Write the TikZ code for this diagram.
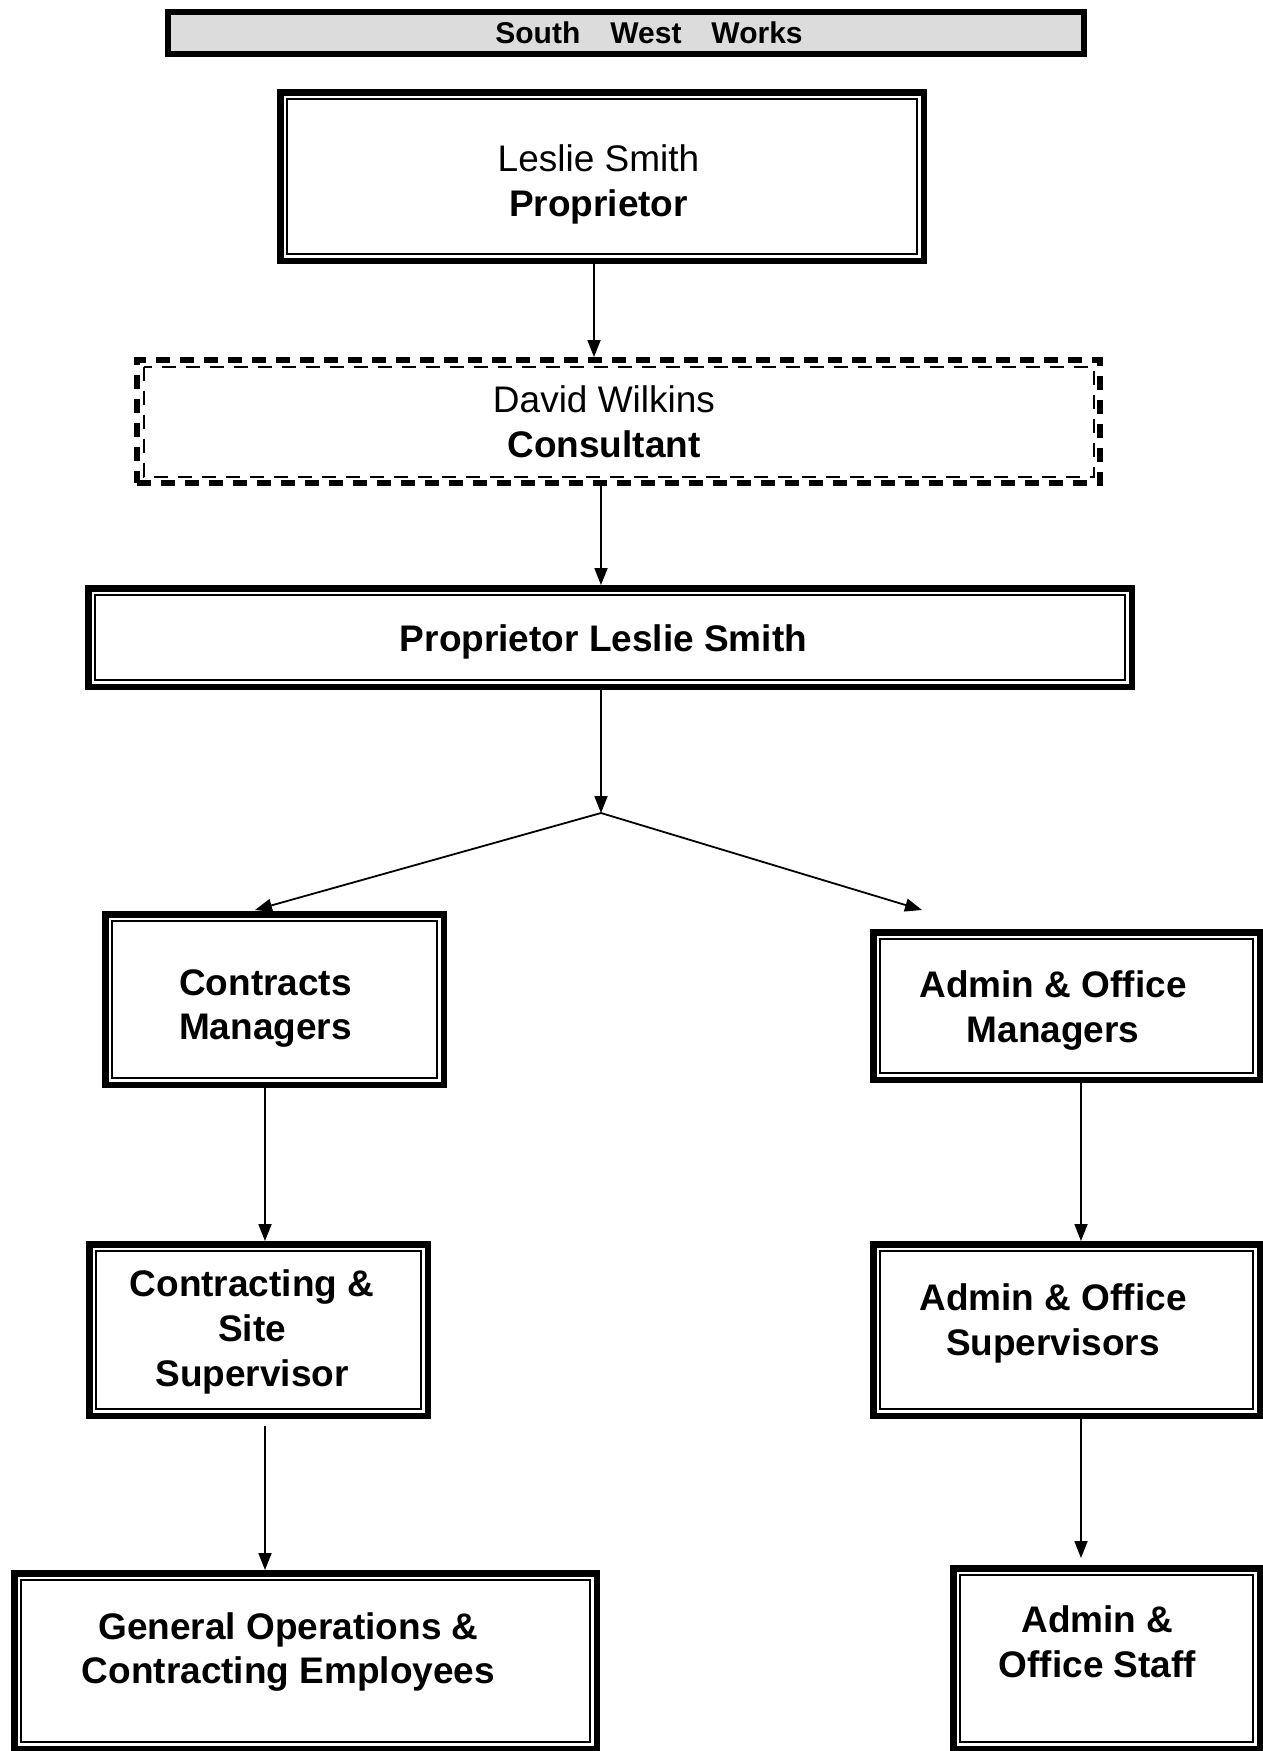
\documentclass[tikz,border=0pt]{standalone}
\usepackage{fontspec}
\setmainfont{Liberation Sans}
\usetikzlibrary{arrows.meta}
\definecolor{titlegray}{RGB}{220,220,220}

\begin{document}
\begin{tikzpicture}[x=1pt,y=-1pt,
    orgbox/.style={draw,line width=6.5pt,inner sep=0pt},
    dashbox/.style={orgbox,line width=6pt,dash pattern=on 14pt off 10pt},
    boxtext/.style={align=center,inner sep=0pt,
                    font=\fontsize{37}{44.7}\selectfont\bfseries},
    titlebox/.style={draw,fill=titlegray,line width=6pt,inner sep=0pt,
                     font=\fontsize{30}{36}\selectfont\bfseries},
    innerline/.style={line width=2pt},
    link/.style={-{Triangle[length=17pt,width=13pt]},line width=1.8pt}
  ]
  \useasboundingbox (0,0) rectangle (1262,1751);

  \node[titlebox,minimum width=916pt,minimum height=42pt,
        label={[font=\fontsize{30}{36}\selectfont\bfseries,xshift=23pt]center:South\quad West\quad Works}]
        (title) at (626,33) {};

  \node[orgbox,minimum width=643.5pt,minimum height=168.5pt,
        label={[boxtext,xshift=-3.5pt,yshift=-8pt]center:{{\mdseries Leslie Smith}\\Proprietor}}]
        (boss) at (602,176.5) {};
  \node[dashbox,minimum width=963pt,minimum height=123pt,
        label={[boxtext,xshift=-14.5pt]center:{{\mdseries David Wilkins}\\Consultant}}]
        (cons) at (618.5,421.5) {};
  \node[orgbox,minimum width=1043.5pt,minimum height=98.5pt,
        label={[boxtext,xshift=-6.5pt,yshift=-4.5pt]center:Proprietor Leslie Smith}]
        (chief) at (610,637.5) {};

  \node[orgbox,minimum width=338.5pt,minimum height=170.5pt,
        label={[boxtext,xshift=-9pt,yshift=-9pt]center:{Contracts\\Managers}}]
        (cmgr) at (274.5,999.5) {};
  \node[orgbox,minimum width=386.5pt,minimum height=147.5pt,
        label={[boxtext,xshift=-13.5pt,yshift=-4.5pt]center:{Admin \& Office\\Managers}}]
        (amgr) at (1066.5,1006) {};
  \node[orgbox,minimum width=338.5pt,minimum height=171.5pt,
        label={[boxtext,xshift=-6.5pt,yshift=-2pt]center:{Contracting \&\\Site\\Supervisor}}]
        (csup) at (258.5,1330) {};
  \node[orgbox,minimum width=386.5pt,minimum height=171.5pt,
        label={[boxtext,xshift=-13.5pt,yshift=6.5pt]center:{Admin \& Office\\Supervisors}}]
        (asup) at (1066.5,1330) {};
  \node[orgbox,minimum width=582.5pt,minimum height=175.5pt,
        label={[boxtext,xshift=-17pt,yshift=9pt]center:{General Operations \&\\Contracting Employees}}]
        (gops) at (305.5,1661) {};
  \node[orgbox,minimum width=306.5pt,minimum height=180.5pt,
        label={[boxtext,xshift=-9pt,yshift=17pt]center:{Admin \&\\Office Staff}}]
        (astaff) at (1106.5,1658.5) {};

  % thin inner frames
  \foreach \n in {boss,chief,cmgr,amgr,csup,asup,gops,astaff}
    \draw[innerline] ([shift={(10,10)}]\n.north west) rectangle ([shift={(-10,-10)}]\n.south east);
  \draw[innerline,dash pattern=on 14pt off 10pt]
    ([shift={(9.5,9.5)}]cons.north west) rectangle ([shift={(-9.5,-9.5)}]cons.south east);

  \coordinate (split) at (601,813);
  \coordinate (lend)  at (255,910);
  \coordinate (rend)  at (922,910);

  \draw[link] ([xshift=-8pt]boss.south) -- ([xshift=-24.5pt]cons.north);
  \draw[link] ([xshift=-17.5pt]cons.south) -- ([xshift=-9pt]chief.north);
  \draw[link] ([xshift=-9pt]chief.south) -- (split);
  \draw[link] (split) -- (lend);
  \draw[link] (split) -- (rend);
  \draw[link] ([xshift=-9.5pt]cmgr.south) -- ([xshift=6.5pt]csup.north);
  \draw[link] ([xshift=14.5pt]amgr.south) -- ([xshift=14.5pt]asup.north);
  \draw[link] ([xshift=6.5pt,yshift=-7pt]csup.south) -- ([xshift=-40.5pt]gops.north);
  \draw[link] ([xshift=14.5pt]asup.south) -- ([xshift=-25.5pt,yshift=7pt]astaff.north);
\end{tikzpicture}
\end{document}
